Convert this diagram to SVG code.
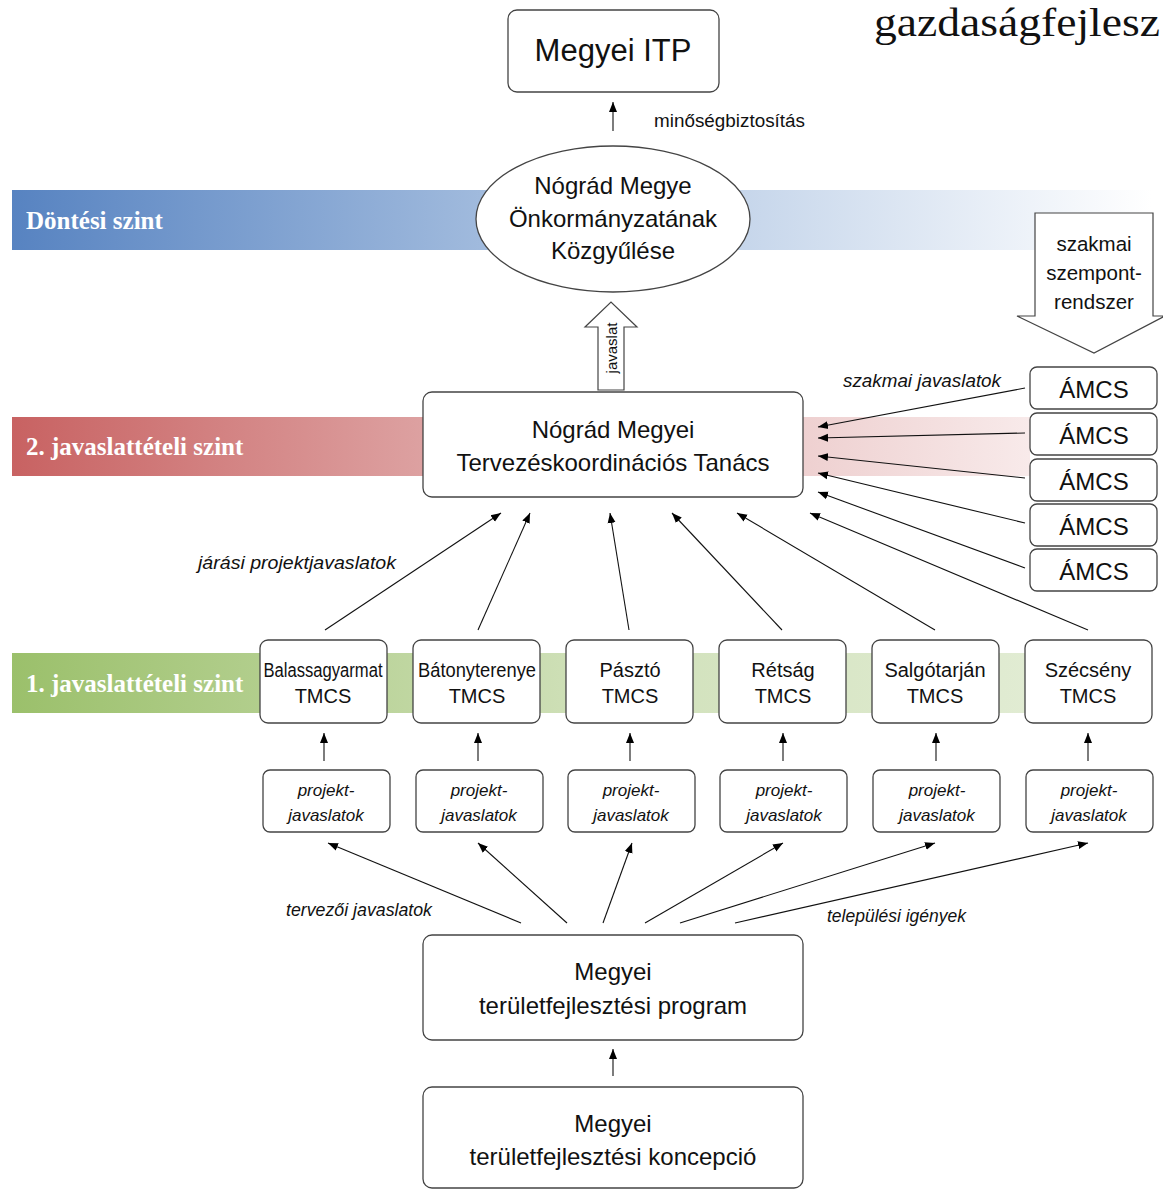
<svg xmlns="http://www.w3.org/2000/svg" width="1163" height="1189" viewBox="0 0 1163 1189">
<defs>
<linearGradient id="gBlue" x1="0" y1="0" x2="1" y2="0">
<stop offset="0" stop-color="#5783c1"/><stop offset="0.5" stop-color="#b0c6e3"/><stop offset="1" stop-color="#ffffff"/>
</linearGradient>
<linearGradient id="gRed" x1="0" y1="0" x2="1" y2="0">
<stop offset="0" stop-color="#c86262"/><stop offset="0.5" stop-color="#e2b0b0"/><stop offset="1" stop-color="#f8eaea"/>
</linearGradient>
<linearGradient id="gGreen" x1="0" y1="0" x2="1" y2="0">
<stop offset="0" stop-color="#9bc06b"/><stop offset="0.5" stop-color="#cfe0b8"/><stop offset="1" stop-color="#e6efda"/>
</linearGradient>
<marker id="ah" viewBox="0 0 10 10" refX="10" refY="5" markerWidth="10" markerHeight="10" markerUnits="userSpaceOnUse" orient="auto">
<path d="M0,1 L10,5 L0,9 z" fill="#000"/>
</marker>
</defs>
<style>
.box{fill:#fff;stroke:#444;stroke-width:1.3}
.t{font-family:"Liberation Sans",Arial,sans-serif;fill:#111;text-anchor:middle}
.big{font-size:24px}
.mid{font-size:20px}
.it{font-family:"Liberation Sans",Arial,sans-serif;font-style:italic;fill:#111;font-size:17px}
.lab{font-family:"Liberation Sans",Arial,sans-serif;font-style:italic;fill:#111;font-size:18px}
.band{font-family:"Liberation Serif","Times New Roman",serif;font-weight:bold;font-size:25px;fill:#fff}
.ln{stroke:#111;stroke-width:1.1;fill:none;marker-end:url(#ah)}
</style>
<rect width="1163" height="1189" fill="#fff"/>

<g id="bands">
<rect x="12" y="190" width="1140" height="60" fill="url(#gBlue)"/>
<text class="band" x="26" y="229">Döntési szint</text>
<rect x="12" y="417" width="1018" height="59" fill="url(#gRed)"/>
<text class="band" x="26" y="455">2. javaslattételi szint</text>
<rect x="12" y="653" width="1140" height="60" fill="url(#gGreen)"/>
<text class="band" x="26" y="692">1. javaslattételi szint</text>
</g>

<text id="title" x="874" y="36" font-family="Liberation Serif,'Times New Roman',serif" font-size="40" fill="#111" textLength="286" lengthAdjust="spacingAndGlyphs">gazdaságfejlesz</text>

<g id="connectors">
<line class="ln" x1="613" y1="131" x2="613" y2="102"/>
<line class="ln" x1="325" y1="630" x2="501" y2="513"/>
<line class="ln" x1="478" y1="630" x2="530" y2="513"/>
<line class="ln" x1="629" y1="630" x2="610" y2="513"/>
<line class="ln" x1="782" y1="630" x2="672" y2="513"/>
<line class="ln" x1="935" y1="630" x2="737" y2="513"/>
<line class="ln" x1="1088" y1="630" x2="810" y2="513"/>
<line class="ln" x1="1025" y1="388" x2="818" y2="427"/>
<line class="ln" x1="1025" y1="433" x2="818" y2="438"/>
<line class="ln" x1="1025" y1="478" x2="818" y2="456"/>
<line class="ln" x1="1025" y1="523" x2="818" y2="473"/>
<line class="ln" x1="1025" y1="568" x2="818" y2="492"/>
<line class="ln" x1="324" y1="761" x2="324" y2="733"/>
<line class="ln" x1="478" y1="761" x2="478" y2="733"/>
<line class="ln" x1="630" y1="761" x2="630" y2="733"/>
<line class="ln" x1="783" y1="761" x2="783" y2="733"/>
<line class="ln" x1="936" y1="761" x2="936" y2="733"/>
<line class="ln" x1="1088" y1="761" x2="1088" y2="733"/>
<line class="ln" x1="521" y1="923" x2="328" y2="843"/>
<line class="ln" x1="567" y1="923" x2="478" y2="843"/>
<line class="ln" x1="603" y1="923" x2="632" y2="843"/>
<line class="ln" x1="645" y1="923" x2="783" y2="843"/>
<line class="ln" x1="680" y1="923" x2="935" y2="843"/>
<line class="ln" x1="735" y1="923" x2="1088" y2="843"/>
<line class="ln" x1="613" y1="1076" x2="613" y2="1049"/>
<text class="lab" x="654" y="127" style="font-style:normal" textLength="151" lengthAdjust="spacingAndGlyphs">minőségbiztosítás</text>
<text class="lab" x="198" y="569" textLength="198" lengthAdjust="spacingAndGlyphs">járási projektjavaslatok</text>
<text class="lab" x="843" y="387" textLength="158" lengthAdjust="spacingAndGlyphs">szakmai javaslatok</text>
<text class="lab" x="286" y="916" textLength="146" lengthAdjust="spacingAndGlyphs">tervezői javaslatok</text>
<text class="lab" x="827" y="922" textLength="139" lengthAdjust="spacingAndGlyphs">települési igények</text>
</g>

<g id="itp">
<rect class="box" x="508" y="10" width="211" height="82" rx="9"/>
<text class="t" x="613" y="61" font-size="31">Megyei ITP</text>
</g>

<g id="kozgyules">
<ellipse cx="613" cy="219" rx="137" ry="73" fill="#fff" stroke="#444" stroke-width="1.3"/>
<text class="t big" x="613" y="194">Nógrád Megye</text>
<text class="t big" x="613" y="227">Önkormányzatának</text>
<text class="t big" x="613" y="259">Közgyűlése</text>
</g>

<g id="javaslat">
<path d="M598,390 L598,327 L585,327 L611,302 L637,327 L624,327 L624,390 Z" fill="#fff" stroke="#444" stroke-width="1.2"/>
<text class="t" x="0" y="0" font-size="15" transform="translate(617,348) rotate(-90)">javaslat</text>
</g>

<g id="szempont">
<path d="M1035,213 L1153,213 L1153,316 L1165,316 L1094,353 L1017,316 L1035,316 Z" fill="#fff" stroke="#444" stroke-width="1.2"/>
<text class="t" font-size="20.5" x="1094" y="251">szakmai</text>
<text class="t" font-size="20.5" x="1094" y="280">szempont-</text>
<text class="t" font-size="20.5" x="1094" y="309">rendszer</text>
</g>

<g id="tc">
<rect class="box" x="423" y="392" width="380" height="105" rx="9"/>
<text class="t big" x="613" y="438">Nógrád Megyei</text>
<text class="t big" x="613" y="471">Tervezéskoordinációs Tanács</text>
</g>

<g id="amcs">
<rect class="box" x="1030" y="367" width="127" height="42" rx="7"/>
<text class="t big" x="1094" y="398">ÁMCS</text>
<rect class="box" x="1030" y="413" width="127" height="42" rx="7"/>
<text class="t big" x="1094" y="444">ÁMCS</text>
<rect class="box" x="1030" y="459" width="127" height="42" rx="7"/>
<text class="t big" x="1094" y="490">ÁMCS</text>
<rect class="box" x="1030" y="504" width="127" height="42" rx="7"/>
<text class="t big" x="1094" y="535">ÁMCS</text>
<rect class="box" x="1030" y="549" width="127" height="42" rx="7"/>
<text class="t big" x="1094" y="580">ÁMCS</text>
</g>

<g id="tmcs">
<rect class="box" x="260" y="640" width="127" height="83" rx="8"/>
<text class="t mid" x="323" y="677" textLength="119" lengthAdjust="spacingAndGlyphs">Balassagyarmat</text>
<text class="t mid" x="323" y="703">TMCS</text>
<rect class="box" x="413" y="640" width="127" height="83" rx="8"/>
<text class="t mid" x="477" y="677" textLength="118" lengthAdjust="spacingAndGlyphs">Bátonyterenye</text>
<text class="t mid" x="477" y="703">TMCS</text>
<rect class="box" x="566" y="640" width="127" height="83" rx="8"/>
<text class="t mid" x="630" y="677">Pásztó</text>
<text class="t mid" x="630" y="703">TMCS</text>
<rect class="box" x="719" y="640" width="127" height="83" rx="8"/>
<text class="t mid" x="783" y="677">Rétság</text>
<text class="t mid" x="783" y="703">TMCS</text>
<rect class="box" x="872" y="640" width="127" height="83" rx="8"/>
<text class="t mid" x="935" y="677">Salgótarján</text>
<text class="t mid" x="935" y="703">TMCS</text>
<rect class="box" x="1025" y="640" width="127" height="83" rx="8"/>
<text class="t mid" x="1088" y="677">Szécsény</text>
<text class="t mid" x="1088" y="703">TMCS</text>
</g>

<g id="projekt">
<rect class="box" x="263" y="770" width="127" height="62" rx="7"/>
<text class="it" text-anchor="middle" x="326" y="796">projekt-</text>
<text class="it" text-anchor="middle" x="326" y="821">javaslatok</text>
<rect class="box" x="416" y="770" width="127" height="62" rx="7"/>
<text class="it" text-anchor="middle" x="479" y="796">projekt-</text>
<text class="it" text-anchor="middle" x="479" y="821">javaslatok</text>
<rect class="box" x="568" y="770" width="127" height="62" rx="7"/>
<text class="it" text-anchor="middle" x="631" y="796">projekt-</text>
<text class="it" text-anchor="middle" x="631" y="821">javaslatok</text>
<rect class="box" x="720" y="770" width="127" height="62" rx="7"/>
<text class="it" text-anchor="middle" x="784" y="796">projekt-</text>
<text class="it" text-anchor="middle" x="784" y="821">javaslatok</text>
<rect class="box" x="873" y="770" width="127" height="62" rx="7"/>
<text class="it" text-anchor="middle" x="937" y="796">projekt-</text>
<text class="it" text-anchor="middle" x="937" y="821">javaslatok</text>
<rect class="box" x="1026" y="770" width="127" height="62" rx="7"/>
<text class="it" text-anchor="middle" x="1089" y="796">projekt-</text>
<text class="it" text-anchor="middle" x="1089" y="821">javaslatok</text>
</g>

<g id="program">
<rect class="box" x="423" y="935" width="380" height="105" rx="9"/>
<text class="t big" x="613" y="980">Megyei</text>
<text class="t big" x="613" y="1014">területfejlesztési program</text>
</g>

<g id="koncepcio">
<rect class="box" x="423" y="1087" width="380" height="101" rx="9"/>
<text class="t big" x="613" y="1132">Megyei</text>
<text class="t big" x="613" y="1165">területfejlesztési koncepció</text>
</g>
</svg>
